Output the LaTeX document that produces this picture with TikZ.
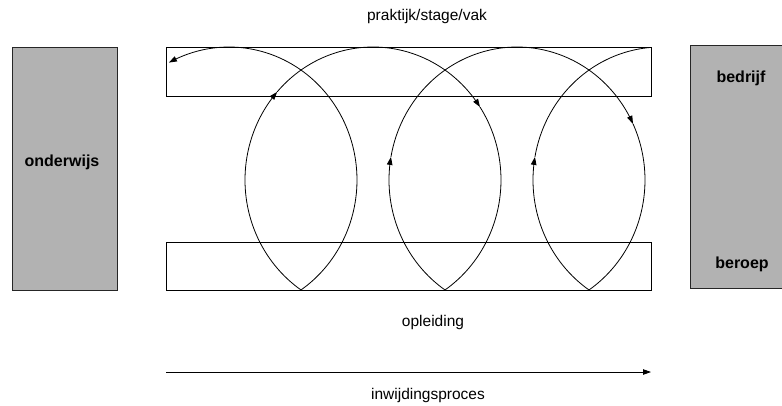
\documentclass[tikz,border=0pt]{standalone}
\usepackage{fontspec}
\setmainfont{Liberation Sans}
\usetikzlibrary{arrows.meta}

% one turn of the coil: centre x, start angle, end angle (y grows downwards)
\newcommand\coilarc[4][]{%
  \draw[coil,#1] plot[domain=#3:#4] ({#2+128*cos(\x)},{180+133*sin(\x)});}

\begin{document}
\begin{tikzpicture}[x=1pt,y=-1pt,
  coil/.style={line width=0.8pt,samples=50,smooth},
  tip/.style={-{Triangle[length=8pt,width=5.5pt]}},
  band/.style={draw=black,line width=0.8pt},
  pillar/.style={draw=black!85,fill=black!30,line width=0.8pt},
  plain/.style={font=\fontsize{15.5}{18}\selectfont,anchor=base},
  heavy/.style={font=\fontsize{16}{19}\selectfont\bfseries,anchor=base}]
\useasboundingbox (0,0) rectangle (782,405);

% side pillars
\draw[pillar] (12,47) rectangle (117,290.5);
\draw[pillar] (690,45) rectangle (800,288);

% horizontal bands
\draw[band] (166,47.5) rectangle (651,96);
\draw[band] (166,242) rectangle (651,290);

% coil turns
\coilarc[tip]{229}{55.8}{-118}
\coilarc[tip]{373}{124.2}{221.5}
\coilarc[tip]{373}{221.5}{326.7}
\coilarc{373}{326.7}{415.8}
\coilarc[tip]{517}{124.2}{190}
\coilarc[tip]{517}{190}{335}
\coilarc{517}{335}{415.8}
\coilarc[tip]{661}{124.2}{190}
\coilarc{661}{190}{265}

% process arrow
\coordinate (pstart) at (166,372);
\coordinate (pend) at (651,372);
\draw[line width=0.8pt,tip] (pstart) -- (pend);

% labels
\node[plain] (top) at (427,20) {praktijk/stage/vak};
\node[plain] (mid) at (433,326) {opleiding};
\node[plain] (bot) at (428,399) {inwijdingsproces};
\node[heavy] (ow) at (62,166) {onderwijs};
\node[heavy] (bd) at (741,82) {bedrijf};
\node[heavy] (br) at (742,268) {beroep};
\end{tikzpicture}
\end{document}
